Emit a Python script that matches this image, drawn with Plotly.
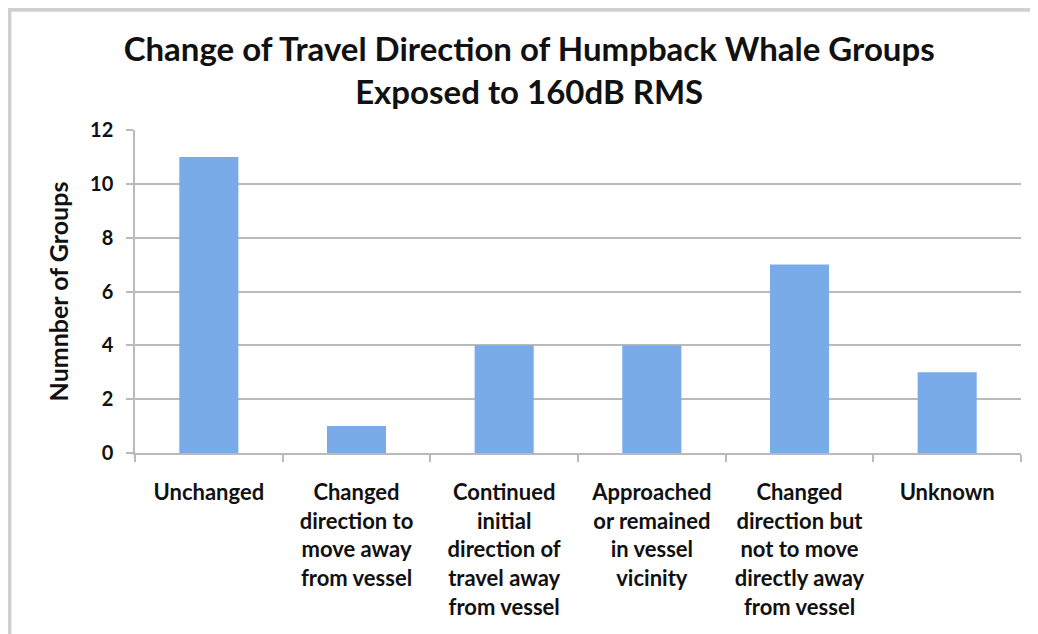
import plotly.graph_objects as go

# chart data
categories = [
    "Unchanged",
    "Changed<br>direction to<br>move away<br>from vessel",
    "Continued<br>initial<br>direction of<br>travel away<br>from vessel",
    "Approached<br>or remained<br>in vessel<br>vicinity",
    "Changed<br>direction but<br>not to move<br>directly away<br>from vessel",
    "Unknown",
]
groups = [11, 1, 4, 4, 7, 3]
y_ticks = [0, 2, 4, 6, 8, 10, 12]

FONT = "Lato"
GRID = "#bababa"
INK = "#111111"

fig = go.Figure(go.Bar(
    x=categories,
    y=groups,
    width=0.4,
    marker=dict(color="#78abe8", line=dict(width=0)),
    hoverinfo="x+y",
))

# Excel-style frame (top and left edges)
frame = "#d0d0d0"
fig.add_shape(type="rect", xref="paper", yref="paper",
              x0=-0.145, x1=1.03, y0=1.366, y1=1.40,
              fillcolor=frame, line_width=0, layer="above")
fig.add_shape(type="rect", xref="paper", yref="paper",
              x0=-0.145, x1=-0.1395, y0=-0.6, y1=1.40,
              fillcolor=frame, line_width=0, layer="above")

fig.update_layout(
    width=1030,
    height=626,
    paper_bgcolor="white",
    plot_bgcolor="white",
    margin=dict(l=127, r=17, t=122, b=181),
    showlegend=False,
    font=dict(family=FONT, color=INK),
    title=dict(
        text="<b>Change of Travel Direction of Humpback Whale Groups<br>Exposed to 160dB RMS</b>",
        x=0.506, xanchor="center",
        y=0.915, yanchor="top",
        font=dict(family=FONT, size=33, color=INK),
    ),
    xaxis=dict(
        showline=True, linecolor=GRID, linewidth=1.5,
        showgrid=False,
        ticks="outside", tickson="boundaries", ticklen=7,
        tickcolor=GRID, tickwidth=1.5,
        tickfont=dict(family=FONT, size=22, color=INK, weight="bold"),
        tickangle=0,
        ticklabelstandoff=19,
    ),
    yaxis=dict(
        range=[0, 12],
        tickvals=y_ticks,
        showline=True, linecolor=GRID, linewidth=1.5,
        showgrid=True, gridcolor=GRID, gridwidth=1.5,
        ticks="outside", ticklen=7, tickcolor=GRID, tickwidth=1.5,
        tickfont=dict(family=FONT, size=20, color=INK, weight="bold"),
        ticklabelstandoff=9,
        zeroline=False,
        title=dict(text="<b>Numnber of Groups</b>",
                   font=dict(family=FONT, size=25, color=INK),
                   standoff=14),
    ),
    bargap=0.6,
)

fig.write_html("out.html")
